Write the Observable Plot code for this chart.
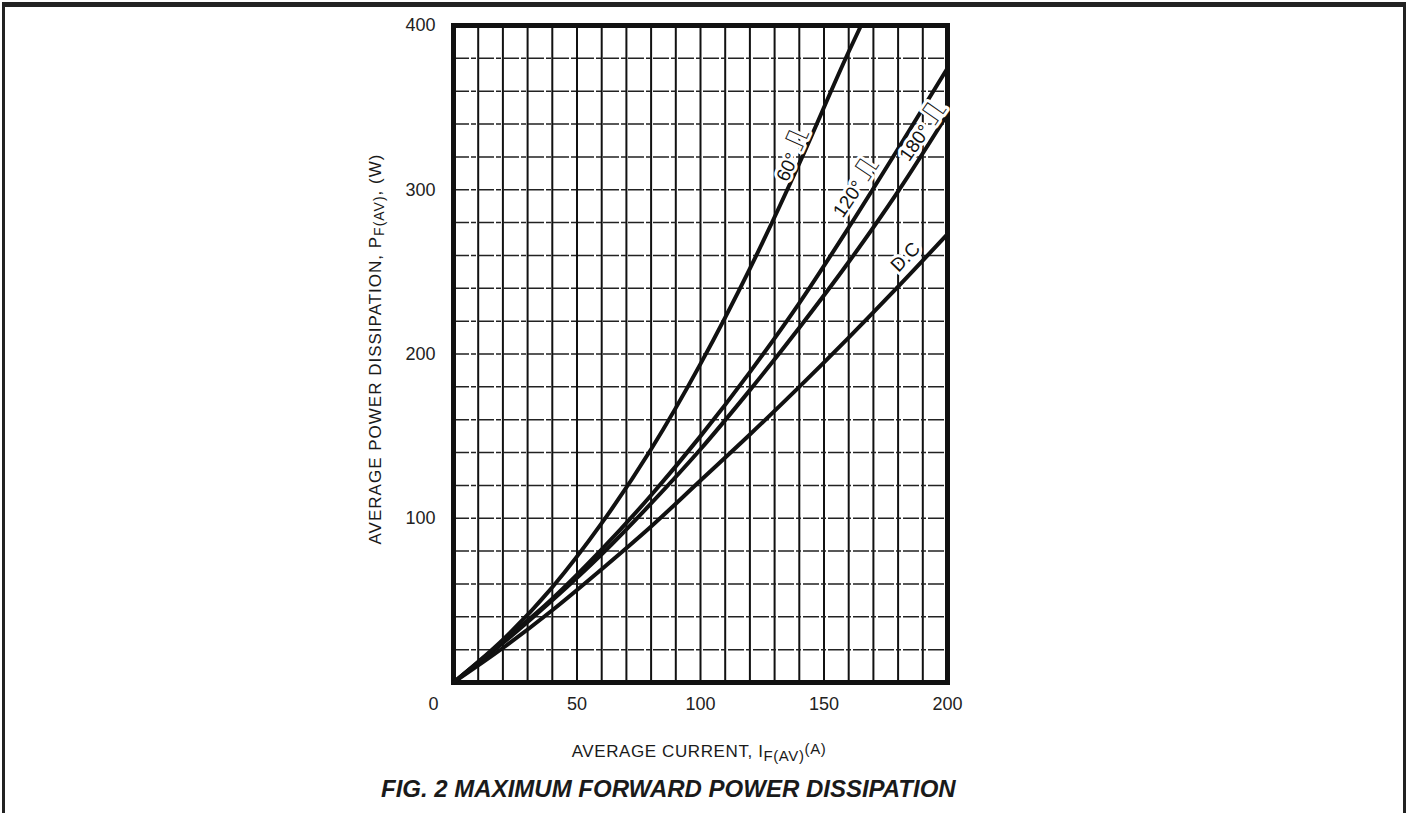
<!DOCTYPE html>
<html>
<head>
<meta charset="utf-8">
<script src="https://cdn.jsdelivr.net/npm/d3@7"></script>
<script src="https://cdn.jsdelivr.net/npm/@observablehq/plot@0.6"></script>
<style>
  html, body { margin: 0; padding: 0; background: #fff; }
  #page { position: relative; width: 1408px; height: 813px; overflow: hidden; }
  #border { position: absolute; left: 2px; top: 2px; width: 1398px; height: 830px;
            border-top: 5px solid #222; border-left: 3px solid #222; border-right: 3px solid #222; }
  #chart svg { display: block; }
  #caption { margin-left: 381px; margin-top: 9px; font: italic bold 24px "Liberation Sans", Arial, sans-serif;
             line-height: 24px; color: #1a1a1a; white-space: nowrap; }
</style>
</head>
<body>
<div id="page">
  <div id="chart"></div>
  <div id="caption">FIG. 2 MAXIMUM FORWARD POWER DISSIPATION</div>
  <div id="border"></div>
</div>
<script>
// ---- data ----
const currentA = [0, 20, 40, 60, 80, 100, 120, 140, 160, 180, 200];   // A
const powerDC   = [0, 21, 44, 69, 95, 123, 151, 180, 210, 241, 273]; // W
const power180  = [0, 24, 50, 78, 109, 142, 178, 216, 256, 299, 346];
const power120  = [0, 25, 51, 81, 114, 150, 189, 231, 277, 325, 374];
const current60 = [0, 20, 40, 60, 80, 100, 120, 140, 160, 165];
const power60   = [0, 26, 58, 97, 142, 194, 252, 316, 384, 400];

const xTicks = [0, 50, 100, 150, 200];
const yTicks = [100, 200, 300, 400];
const xGrid = d3.range(10, 200, 10);
const yGrid = d3.range(20, 400, 20);

const curveNames  = ["60°", "120°", "180°", "D.C"];
const curveSymbol = ["⎍", "⎍", "⎍", ""];
const labelCurrent = [137.5, 163, 190, 183];
const labelPower   = [321, 301, 335, 259];
const labelAngle   = [-66, -56, -55, -46];

// ---- build rows ----
const rows = [];
currentA.forEach((x, i) => {
  rows.push({series: "DC", x, y: powerDC[i]});
  rows.push({series: "180", x, y: power180[i]});
  rows.push({series: "120", x, y: power120[i]});
});
current60.forEach((x, i) => rows.push({series: "60", x, y: power60[i]}));
const labels = curveNames.map((t, i) => ({text: t + (curveSymbol[i] ? " " + curveSymbol[i] : ""),
  x: labelCurrent[i], y: labelPower[i], r: labelAngle[i]}));

const font = '"Liberation Sans", Arial, sans-serif';
const W = 1408, H = 768;
const chart = Plot.plot({
  width: W, height: H,
  marginLeft: 453, marginRight: W - 947, marginTop: 25, marginBottom: H - 682,
  style: {fontFamily: font, fontSize: "18px", color: "#1a1a1a", background: "transparent", overflow: "visible"},
  x: {domain: [0, 200], axis: null},
  y: {domain: [0, 400], axis: null},
  marks: [
    Plot.ruleX(xGrid, {stroke: "#111", strokeWidth: 2}),
    Plot.ruleY(yGrid, {stroke: "#222", strokeWidth: 1.5, strokeDasharray: "16,2,5,2"}),
    Plot.frame({stroke: "#111", strokeWidth: 5}),
    Plot.line(rows, {x: "x", y: "y", z: "series", stroke: "#111", strokeWidth: 4, curve: "monotone-x"}),
    Plot.text(labels, {x: "x", y: "y", text: "text", rotate: "r", fontSize: 19, fill: "#111",
                       stroke: "white", strokeWidth: 6, fontFamily: font}),
    Plot.axisY(yTicks, {tickSize: 0, tickPadding: 18, fontSize: 18, label: null, fill: "#222"}),
    Plot.axisX(xTicks.filter(d => d !== 0), {tickSize: 0, tickPadding: 15, fontSize: 18, label: null, fill: "#222"}),
    Plot.axisX([0], {tickSize: 0, tickPadding: 15, fontSize: 18, label: null, dx: -20, fill: "#222"})
  ]
});
document.getElementById("chart").appendChild(chart);

const svg = d3.select(chart);

// enlarge the square-pulse symbol in the curve labels
svg.selectAll('g[aria-label="text"] text').each(function () {
  const t = this.textContent;
  const parts = t.split(" ");
  if (parts.length < 2) return;
  this.textContent = "";
  const s = d3.select(this);
  s.append("tspan").text(parts[0] + " ");
  s.append("tspan").attr("font-size", 30).attr("font-family", '"DejaVu Sans", sans-serif').text(parts[1]);
});

// axis titles with sub/superscripts
const xt = svg.append("text")
  .attr("x", 699).attr("y", 757)
  .attr("text-anchor", "middle")
  .attr("font-family", font).attr("font-size", 17).attr("letter-spacing", 0.6).attr("fill", "#1a1a1a");
xt.append("tspan").text("AVERAGE CURRENT, I");
xt.append("tspan").attr("font-size", 15).attr("dy", 4).text("F(AV)");
xt.append("tspan").attr("font-size", 15).attr("dy", -7).text("(A)");

const yt = svg.append("text")
  .attr("transform", "translate(381,349) rotate(-90)")
  .attr("text-anchor", "middle")
  .attr("font-family", font).attr("font-size", 17).attr("letter-spacing", 1).attr("fill", "#1a1a1a");
yt.append("tspan").text("AVERAGE POWER DISSIPATION, P");
yt.append("tspan").attr("font-size", 14).attr("dy", 3).text("F(AV)");
yt.append("tspan").attr("dy", -3).text(", (W)");
</script>
</body>
</html>
